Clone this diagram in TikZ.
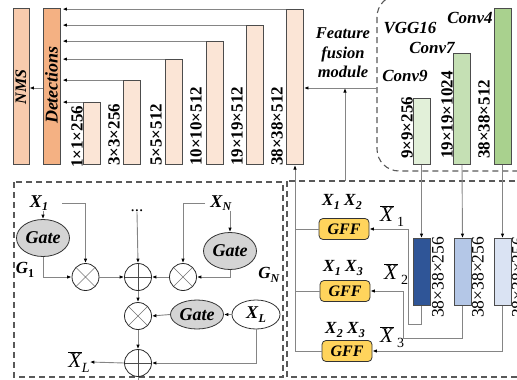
\documentclass[tikz,border=0pt]{standalone}
\usepackage{fontspec}
\setmainfont{Liberation Serif}
\usetikzlibrary{arrows.meta,shapes.geometric}
\definecolor{nmsc}{HTML}{F8CBAD}
\definecolor{detc}{HTML}{F4B183}
\definecolor{fbar}{HTML}{FBE5D6}
\definecolor{gA}{HTML}{E2F0D9}
\definecolor{gB}{HTML}{C5E0B4}
\definecolor{gC}{HTML}{A9D18E}
\definecolor{uA}{HTML}{2F5597}
\definecolor{uB}{HTML}{B4C7E7}
\definecolor{uC}{HTML}{DAE3F3}
\definecolor{gffc}{HTML}{FFD45C}
\definecolor{gatec}{HTML}{D4D4D4}
\definecolor{linec}{HTML}{858585}
\newcommand{\fs}[1]{\fontsize{#1}{#1}\selectfont}
\newcommand{\Xs}[1]{\textbf{\textit{X}}\raisebox{-0.45ex}{\fs{12}\textbf{\textit{#1}}}}
\newcommand{\Xbar}[1]{$\overline{\mbox{\textit{X}}}$\,\raisebox{-0.55ex}{\fs{14}#1}}
\begin{document}
\begin{tikzpicture}[x=1pt,y=-1pt,
  bx/.style={draw=black!70, line width=0.9pt, inner sep=0, minimum width=17pt, anchor=south},
  arr/.style={draw=linec, line width=0.9pt, -{Latex[length=4.5pt,width=3.5pt,black]}},
  ln/.style={draw=linec, line width=0.9pt},
  lab/.style={rotate=90, anchor=west, inner sep=0, font=\fs{17}\bfseries},
  labr/.style={rotate=90, anchor=west, inner sep=0, font=\fs{17.5}},
  dbox/.style={draw=black!65, line width=1.1pt, dash pattern=on 6pt off 4pt},
  gate/.style={ellipse, draw=black!80, line width=0.8pt, fill=gatec, inner sep=0, minimum width=53pt, minimum height=37pt, font=\fs{18}\bfseries\itshape},
  gff/.style={draw=black!80, line width=0.8pt, fill=gffc, rounded corners=4pt, minimum width=50pt, minimum height=21pt, inner sep=0, font=\fs{16}\bfseries\itshape},
  mul/.style={circle, draw=black!85, line width=0.8pt, minimum size=27pt, inner sep=0,
    path picture={\draw[black!55, line width=0.6pt] (path picture bounding box.north west) -- (path picture bounding box.south east) (path picture bounding box.north east) -- (path picture bounding box.south west);}},
  add/.style={circle, draw=black!85, line width=0.8pt, minimum size=27pt, inner sep=0,
    path picture={\draw[black!70, line width=0.8pt] (path picture bounding box.north) -- (path picture bounding box.south) (path picture bounding box.west) -- (path picture bounding box.east);}},
  txt/.style={inner sep=0, font=\fs{17}\bfseries\itshape}
]
\useasboundingbox (0,0) rectangle (517,380);
\clip (0,0) rectangle (517,380);

% ---------- top part ----------
\node[bx, fill=nmsc, minimum width=16pt, minimum height=156pt] (nms) at (21,165) {};
\node[rotate=90, inner sep=0, font=\fs{16}\bfseries\itshape] at (21,87) {NMS};
\node[bx, fill=detc, minimum height=156pt] (det) at (51.5,165) {};
\node[rotate=90, inner sep=0, font=\fs{18}\bfseries\itshape] at (51.5,85) {Detections};
\draw[arr] (det.west |- 0,88) -- (nms.east |- 0,88);

\node[bx, fill=fbar, minimum height=62pt] (b1) at (91.5,165) {};
\node[bx, fill=fbar, minimum height=84pt] (b2) at (131.5,165) {};
\node[bx, fill=fbar, minimum height=105pt] (b3) at (173.5,165) {};
\node[bx, fill=fbar, minimum height=123pt] (b4) at (214.5,165) {};
\node[bx, fill=fbar, minimum height=139pt] (b5) at (254.5,165) {};
\node[bx, fill=fbar, minimum height=155pt] (b6) at (295,165) {};
\node[lab] at (77,168) {1×1×256};
\node[lab] at (114,166) {3×3×256};
\node[lab] at (156,166) {5×5×512};
\node[lab] at (196,166) {10×10×512};
\node[lab] at (237,166) {19×19×512};
\node[lab] at (277,166) {38×38×512};
\foreach \b in {b1,b2,b3,b4,b5,b6}
  \draw[arr, shorten >=2pt] (\b.north west) -- (\b.north west -| det.east);

\node[txt, align=center, font=\fs{16.5}\bfseries\itshape] (ffm) at (343,53) {Feature\\[3pt]fusion\\[3pt]module};

% VGG16 box
\draw[dbox, rounded corners=22pt] (377,-5) rectangle (540,171);
\coordinate (vggL) at (377,88);
\node[txt] at (410,28) {VGG16};
\node[txt] at (470,18) {Conv4};
\node[txt] at (432,48) {Conv7};
\node[txt] at (405,76) {Conv9};
\node[bx, fill=gA, minimum height=66pt] (g9) at (421.5,165) {};
\node[bx, fill=gB, minimum height=111pt] (g7) at (462,165) {};
\node[bx, fill=gC, minimum height=156pt] (g4) at (502.5,165) {};
\node[lab] at (407,159) {9×9×256};
\node[lab] at (447,159) {19×19×1024};
\node[lab] at (484,159) {38×38×512};
\draw[arr] (vggL) -- (b6.east |- vggL);

% ---------- dashed boxes ----------
\draw[dbox] (14,182) rectangle (283,377);
\draw[dbox] (287,181) rectangle (540,377);
\coordinate (fb) at (345,181);
\draw[arr] (fb) -- (fb |- vggL);

% ---------- right bottom ----------
\node[bx, fill=uA, minimum height=67pt] (u1) at (421.5,306) {};
\node[bx, fill=uB, minimum height=67pt] (u2) at (462.5,306) {};
\node[bx, fill=uC, minimum height=67pt] (u3) at (502.5,306) {};
\node[labr] at (438,318) {38×38×256};
\node[labr] at (478,318) {38×38×256};
\node[labr] at (518,318) {38×38×256};
\draw[arr] (g9.south) -- (u1.north);
\draw[arr] (g7.south) -- (u2.north);
\draw[arr] (g4.south) -- (u3.north);

\node[gff] (f1) at (344,229) {GFF};
\node[gff] (f2) at (345,291) {GFF};
\node[gff] (f3) at (347,351) {GFF};
\node[inner sep=0, font=\fs{17}] at (342,202) {\Xs{1}\ \Xs{2}};
\node[inner sep=0, font=\fs{17}] at (343,268) {\Xs{1}\ \Xs{3}};
\node[inner sep=0, font=\fs{17}] at (345,330) {\Xs{2}\ \Xs{3}};
\node[inner sep=0, font=\fs{21}] at (392,216) {\Xbar{1}};
\node[inner sep=0, font=\fs{21}] at (396,274) {\Xbar{2}};
\node[inner sep=0, font=\fs{21}] at (392,337) {\Xbar{3}};

\draw[arr] (u1.south) |- (408,324) |- (f1.east);
\draw[arr] (u2.south) |- (403,338) |- (f2.east);
\draw[arr] (u3.south) |- (f3.east);
\draw[ln] (f1.west) -- (f1.west -| b6.south);
\draw[ln] (f2.west) -- (f2.west -| b6.south);
\draw[arr] (f3.west) -| (b6.south);

% ---------- left bottom ----------
\node[inner sep=0, font=\fs{18}] (x1) at (39,203) {\Xs{1}};
\node[gate] (gt1) at (43,238) {Gate};
\node[inner sep=0, font=\fs{17}\bfseries] at (25,270) {\textit{G}\raisebox{-0.45ex}{\fs{12}1}};
\node[mul] (m1) at (85.5,277) {};
\node[add] (p1) at (138,277) {};
\node[mul] (m2) at (183,277) {};
\node[inner sep=0, font=\fs{17}] (dots) at (137,211) {...};
\node[inner sep=0, font=\fs{18}] (xn) at (221,203) {\Xs{N}};
\node[gate] (gtn) at (230,251) {Gate};
\node[inner sep=0, font=\fs{17}\bfseries] at (269,275) {\textit{G}\raisebox{-0.45ex}{\fs{12}\textit{N}}};
\node[mul] (m3) at (138,316) {};
\node[gate, minimum height=29pt] (gtm) at (197,314.5) {Gate};
\node[ellipse, draw=black!80, line width=0.8pt, fill=white, minimum width=48pt, minimum height=29pt, inner sep=0, font=\fs{18}] (xl) at (256,314.5) {\Xs{L}};
\node[add] (p2) at (138,363) {};
\node[inner sep=0, font=\fs{21}] (xlb) at (79,362) {$\overline{\mbox{\textit{X}}}$\raisebox{-0.55ex}{\fs{14}\textit{L}}};

\draw[arr] (gt1.north |- x1.south) -- (gt1.north);
\draw[arr] ([xshift=14pt]x1.east) -| (m1.north);
\draw[arr] (gt1.south) |- (m1.west);
\draw[arr] (dots.south) -- (p1.north);
\draw[arr] (m1.east) -- (p1.west);
\draw[arr] (m2.west) -- (p1.east);
\draw[arr] (gtn.north |- xn.south) -- (gtn.north);
\draw[arr] ([xshift=-5pt]xn.west) -| (m2.north);
\draw[arr] (gtn.south) |- (m2.east);
\draw[arr] (p1.south) -- (m3.north);
\draw[arr] (xl.west) -- (gtm.east);
\draw[arr] (gtm.west) -- (m3.east);
\draw[arr] (m3.south) -- (p2.north);
\draw[arr] (xl.south) |- (p2.east);
\draw[arr] (p2.west) -- (xlb.east);
\draw[ln] (p2.south) -- ++(0,5);
\end{tikzpicture}
\end{document}
